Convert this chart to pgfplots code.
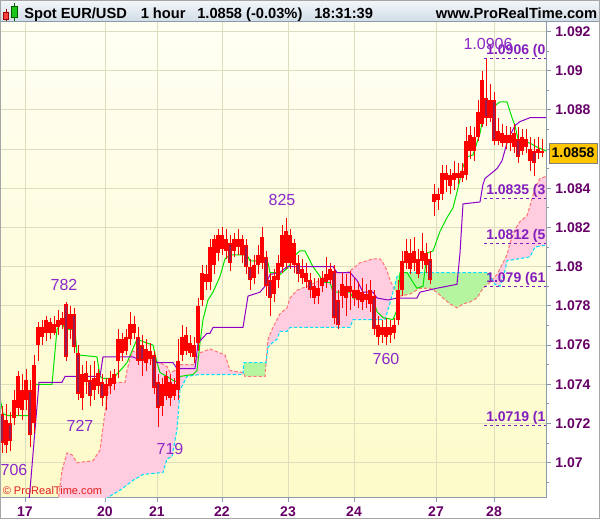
\documentclass[border=0pt]{standalone}
\usepackage{pgfplots}
\pgfplotsset{compat=1.18}
\usepackage{pgfplotstable}
\usepgfplotslibrary{fillbetween}
\usepackage{fontspec}
\setmainfont{Liberation Sans}
\definecolor{candle}{RGB}{255,0,0}
\definecolor{candledk}{RGB}{150,30,80}
\definecolor{tenkan}{RGB}{0,225,0}
\definecolor{kijun}{RGB}{140,0,200}
\definecolor{spanA}{RGB}{0,225,250}
\definecolor{spanB}{RGB}{255,120,120}
\definecolor{cloudpink}{RGB}{255,204,224}
\definecolor{cloudgreen}{RGB}{182,245,160}
\definecolor{gridc}{RGB}{222,222,190}
\definecolor{tickc}{RGB}{102,0,102}
\definecolor{annc}{RGB}{140,40,200}
\definecolor{levc}{RGB}{130,30,190}
\definecolor{framec}{RGB}{140,155,170}
\definecolor{bgtop}{RGB}{255,255,244}
\definecolor{bgbot}{RGB}{253,251,200}
\definecolor{titletop}{RGB}{244,247,250}
\definecolor{titlebot}{RGB}{208,220,230}
\definecolor{gold}{RGB}{255,198,0}

\pgfplotstableread{
x lo bl bh hi
2 1.0705 1.0710 1.0725 1.0729
6 1.0705 1.0709 1.0722 1.0730
10 1.0706 1.0711 1.0720 1.0726
14 1.0719 1.0723 1.0732 1.0737
18 1.0724 1.0728 1.0744 1.0747
22 1.0722 1.0727 1.0737 1.0745
26 1.0727 1.0732 1.0742 1.0748
30 1.0708 1.0714 1.0737 1.0742
34 1.0715 1.0720 1.0750 1.0755
38 1.0752 1.0760 1.0769 1.0772
42 1.0760 1.0764 1.0769 1.0773
46 1.0762 1.0766 1.0773 1.0775
50 1.0763 1.0766 1.0772 1.0774
54 1.0765 1.0766 1.0771 1.0775
58 1.0765 1.0769 1.0773 1.0778
62 1.0768 1.0770 1.0774 1.0777
66 1.0752 1.0754 1.0781 1.0782
70 1.0763 1.0768 1.0776 1.0780
74 1.0756 1.0759 1.0776 1.0779
78 1.0732 1.0735 1.0756 1.0760
82 1.0727 1.0733 1.0745 1.0750
86 1.0735 1.0741 1.0746 1.0752
90 1.0729 1.0734 1.0742 1.0750
94 1.0732 1.0737 1.0743 1.0752
98 1.0735 1.0739 1.0746 1.0748
102 1.0729 1.0733 1.0741 1.0745
106 1.0727 1.0734 1.0740 1.0743
110 1.0735 1.0739 1.0743 1.0747
114 1.0737 1.0740 1.0745 1.0748
118 1.0743 1.0752 1.0763 1.0768
122 1.0752 1.0756 1.0763 1.0766
126 1.0755 1.0757 1.0764 1.0768
130 1.0760 1.0763 1.0771 1.0777
134 1.0763 1.0766 1.0771 1.0775
138 1.0750 1.0752 1.0764 1.0769
142 1.0744 1.0752 1.0760 1.0765
146 1.0747 1.0751 1.0758 1.0763
150 1.0750 1.0753 1.0757 1.0761
154 1.0735 1.0738 1.0755 1.0757
158 1.0718 1.0728 1.0741 1.0745
162 1.0724 1.0729 1.0740 1.0743
166 1.0732 1.0734 1.0744 1.0747
170 1.0729 1.0733 1.0741 1.0745
174 1.0732 1.0734 1.0740 1.0743
178 1.0732 1.0737 1.0752 1.0763
182 1.0752 1.0755 1.0764 1.0770
186 1.0755 1.0757 1.0765 1.0769
190 1.0754 1.0756 1.0761 1.0765
194 1.0751 1.0754 1.0760 1.0764
198 1.0757 1.0761 1.0780 1.0784
202 1.0780 1.0783 1.0797 1.0801
206 1.0788 1.0792 1.0796 1.0801
210 1.0788 1.0792 1.0810 1.0814
214 1.0796 1.0801 1.0814 1.0816
218 1.0803 1.0807 1.0816 1.0819
222 1.0806 1.0809 1.0816 1.0820
226 1.0804 1.0808 1.0814 1.0819
230 1.0798 1.0802 1.0812 1.0816
234 1.0805 1.0808 1.0814 1.0817
238 1.0806 1.0810 1.0814 1.0819
242 1.0802 1.0806 1.0814 1.0816
246 1.0796 1.0800 1.0811 1.0814
250 1.0788 1.0793 1.0800 1.0804
254 1.0791 1.0794 1.0801 1.0806
258 1.0796 1.0801 1.0806 1.0811
262 1.0799 1.0802 1.0815 1.0820
266 1.0785 1.0790 1.0805 1.0808
270 1.0775 1.0784 1.0793 1.0797
274 1.0782 1.0786 1.0795 1.0799
278 1.0789 1.0793 1.0802 1.0806
282 1.0797 1.0800 1.0816 1.0821
286 1.0799 1.0802 1.0818 1.0825
290 1.0799 1.0802 1.0816 1.0819
294 1.0797 1.0801 1.0812 1.0814
298 1.0792 1.0796 1.0802 1.0806
302 1.0791 1.0794 1.0799 1.0804
306 1.0789 1.0792 1.0797 1.0802
310 1.0784 1.0788 1.0793 1.0797
314 1.0781 1.0784 1.0790 1.0794
318 1.0781 1.0785 1.0789 1.0794
322 1.0787 1.0790 1.0794 1.0798
326 1.0789 1.0792 1.0796 1.0805
330 1.0791 1.0793 1.0799 1.0802
334 1.0771 1.0774 1.0798 1.0801
338 1.0768 1.0770 1.0783 1.0788
342 1.0779 1.0785 1.0791 1.0797
346 1.0775 1.0784 1.0790 1.0796
350 1.0778 1.0787 1.0790 1.0798
354 1.0780 1.0784 1.0788 1.0794
358 1.0779 1.0783 1.0788 1.0792
362 1.0778 1.0782 1.0787 1.0794
366 1.0779 1.0783 1.0786 1.0791
370 1.0777 1.0781 1.0788 1.0793
374 1.0765 1.0768 1.0785 1.0788
378 1.0760 1.0764 1.0770 1.0775
382 1.0761 1.0765 1.0769 1.0773
386 1.0760 1.0764 1.0769 1.0774
390 1.0761 1.0765 1.0769 1.0773
394 1.0763 1.0766 1.0770 1.0774
398 1.0770 1.0773 1.0788 1.0793
402 1.0785 1.0788 1.0803 1.0808
406 1.0799 1.0802 1.0808 1.0814
410 1.0796 1.0799 1.0807 1.0814
414 1.0798 1.0802 1.0808 1.0815
418 1.0794 1.0796 1.0804 1.0809
422 1.0799 1.0803 1.0808 1.0817
426 1.0797 1.0801 1.0807 1.0812
430 1.0791 1.0793 1.0804 1.0808
434 1.0826 1.0833 1.0837 1.0842
438 1.0829 1.0834 1.0837 1.0840
442 1.0834 1.0837 1.0848 1.0852
446 1.0838 1.0844 1.0848 1.0852
450 1.0837 1.0841 1.0847 1.0850
454 1.0839 1.0844 1.0848 1.0854
458 1.0842 1.0845 1.0848 1.0853
462 1.0843 1.0845 1.0849 1.0853
466 1.0844 1.0847 1.0864 1.0871
470 1.0855 1.0859 1.0867 1.0872
474 1.0854 1.0859 1.0866 1.0871
478 1.0864 1.0866 1.0879 1.0885
482 1.0871 1.0873 1.0895 1.0900
486 1.0872 1.0876 1.0886 1.0906
490 1.0874 1.0876 1.0885 1.0893
494 1.0862 1.0864 1.0885 1.0889
498 1.0862 1.0864 1.0869 1.0876
502 1.0861 1.0863 1.0868 1.0873
506 1.0860 1.0863 1.0867 1.0872
510 1.0859 1.0863 1.0867 1.0871
514 1.0858 1.0861 1.0868 1.0873
518 1.0853 1.0856 1.0865 1.0871
522 1.0857 1.0859 1.0866 1.0870
526 1.0858 1.0861 1.0865 1.0870
530 1.0849 1.0854 1.0860 1.0866
534 1.0846 1.0853 1.0859 1.0865
538 1.0855 1.0858 1.0860 1.0866
542 1.0856 1.0858 1.0859 1.0865
}\bars

\pgfplotstableread{
x bl bh
2 1.0711 1.0724
10 1.0712 1.0719
30 1.0715 1.0736
66 1.0755 1.0780
74 1.0760 1.0775
78 1.0736 1.0755
90 1.0735 1.0741
102 1.0734 1.0740
138 1.0753 1.0763
142 1.0753 1.0759
154 1.0739 1.0754
158 1.0729 1.0740
230 1.0803 1.0811
246 1.0801 1.0810
250 1.0794 1.0799
266 1.0791 1.0804
270 1.0785 1.0792
298 1.0797 1.0801
310 1.0789 1.0792
334 1.0775 1.0797
338 1.0771 1.0782
374 1.0769 1.0784
430 1.0794 1.0803
486 1.0877 1.0885
494 1.0865 1.0884
518 1.0857 1.0864
534 1.0854 1.0858
}\downbars

\pgfplotstableread{
x y
0 1.0733
3 1.0725
8 1.0724
30 1.0724
33 1.0740
52 1.0740
57 1.0768
62 1.0772
65 1.0768
75 1.0768
77 1.0755
97 1.0754
100 1.0744
103 1.0743
113 1.0743
122 1.0748
127 1.0751
132 1.0757
137 1.0763
147 1.0761
153 1.0760
157 1.0751
160 1.0746
167 1.0744
173 1.0742
178 1.0741
180 1.0744
193 1.0745
197 1.0747
200 1.0761
203 1.0773
208 1.0783
213 1.0787
220 1.0795
225 1.0804
230 1.0806
247 1.0806
250 1.0803
263 1.0803
268 1.0802
270 1.0797
275 1.0797
280 1.0796
287 1.0799
290 1.0801
293 1.0805
300 1.0808
305 1.0808
308 1.0805
313 1.0800
320 1.0795
323 1.0792
330 1.0792
333 1.0787
350 1.0787
353 1.0784
373 1.0784
377 1.0777
383 1.0774
393 1.0773
397 1.0778
400 1.0797
407 1.0797
413 1.0792
417 1.0789
423 1.0790
427 1.0807
433 1.0808
440 1.0818
447 1.0825
453 1.0830
457 1.0838
463 1.0851
467 1.0856
473 1.0857
480 1.0868
483 1.0876
490 1.0879
497 1.0883
500 1.0884
507 1.0884
512 1.0876
515 1.0872
518 1.0865
530 1.0863
537 1.0861
546 1.0859
}\tenkan

\pgfplotstableread{
x y
29 1.0680
39 1.0741
62 1.0741
65 1.0744
100 1.0744
103 1.0754
133 1.0754
137 1.0753
150 1.0754
157 1.0751
173 1.0751
177 1.0748
195 1.0748
198 1.0761
207 1.0766
210 1.0766
213 1.0769
243 1.0769
248 1.0785
260 1.0787
265 1.0790
270 1.0796
280 1.0797
287 1.0800
333 1.0800
337 1.0797
350 1.0797
357 1.0793
363 1.0787
373 1.0787
377 1.0784
388 1.0783
397 1.0784
417 1.0784
420 1.0787
437 1.0789
457 1.0791
460 1.0807
463 1.0832
480 1.0833
483 1.0842
485 1.0845
497 1.0850
502 1.0854
508 1.0865
515 1.0872
520 1.0874
530 1.0876
546 1.0876
}\kijun

\pgfplotstableread{
x y
58 1.0680
62 1.0696
67 1.0705
72 1.0704
77 1.0700
93 1.0701
100 1.07065
104 1.0722
107 1.0733
110 1.0741
125 1.0741
127 1.0747
130 1.0753
133 1.0757
137 1.0756
143 1.0754
153 1.0752
160 1.0751
167 1.0749
170 1.0746
175 1.0747
180 1.0750
193 1.0750
200 1.0756
210 1.0758
220 1.0756
225 1.0755
230 1.0747
243 1.0746
245 1.0744
265 1.0744
268 1.0763
273 1.0769
280 1.0776
287 1.0779
290 1.0784
297 1.0788
307 1.0790
320 1.0793
327 1.0796
337 1.0797
347 1.0797
353 1.0799
360 1.0802
367 1.0803
373 1.0804
380 1.0804
383 1.0802
387 1.0798
390 1.0793
395 1.0788
400 1.0785
410 1.0786
420 1.0789
430 1.0789
437 1.0787
443 1.0784
450 1.0781
457 1.0779
463 1.0781
470 1.0782
477 1.0784
483 1.0789
490 1.0792
497 1.0796
503 1.0802
507 1.0806
510 1.0812
515 1.0819
520 1.0823
527 1.0826
530 1.0831
535 1.0840
540 1.0845
546 1.0846
}\spanb

\pgfplotstableread{
x y
58 1.0670
100 1.0678
107 1.0682
120 1.0686
133 1.0691
143 1.0694
163 1.0695
167 1.0702
172 1.0703
177 1.0717
180 1.0737
187 1.0744
200 1.0745
243 1.0745
244 1.0751
266 1.0751
268 1.0759
272 1.0761
277 1.0763
280 1.0767
287 1.0767
290 1.0769
350 1.0769
353 1.0773
385 1.0773
388 1.0778
393 1.0787
397 1.0795
403 1.0797
488 1.0797
495 1.0791
500 1.0790
505 1.0798
507 1.0803
530 1.0805
535 1.0810
546 1.0811
}\spana

\begin{document}
\begin{tikzpicture}
\begin{axis}[
  at={(0pt,16.5pt)}, anchor=south west,
  scale only axis, width=409.5pt, height=356.25pt,
  xmin=0, xmax=546, ymin=1.06825, ymax=1.09248,
  axis background/.style={top color=bgtop, bottom color=bgbot},
  axis line style={draw=framec, line width=0.75pt},
  xtick={25,105,157,222,288,354,436,494},
  xticklabels={17,20,21,22,23,24,27,28},
  ytick={1.07,1.072,1.074,1.076,1.078,1.08,1.082,1.084,1.086,1.088,1.09,1.092},
  yticklabels={1.07,1.072,1.074,1.076,1.078,1.08,1.082,1.084,{},1.088,1.09,1.092},
  minor ytick={1.069,1.071,1.073,1.075,1.077,1.079,1.081,1.083,1.085,1.087,1.089,1.091},
  tick align=outside, xtick pos=left, ytick pos=right, yticklabel pos=right,
  major tick length=3.5pt, minor tick length=2pt,
  every tick/.style={draw=framec, line width=0.75pt},
  grid=major, major grid style={draw=gridc, line width=0.75pt},
  ticklabel style={font=\fontsize{10.5}{12}\selectfont\bfseries, text=tickc},
]
% cloud
\addplot[name path=B, draw=none, forget plot] table {\spanb};
\addplot[name path=A, draw=none, forget plot] table {\spana};
\addplot[fill=cloudpink, draw=none, forget plot] fill between[of=B and A, soft clip={domain=58:244}];
\addplot[fill=cloudgreen, draw=none, forget plot] fill between[of=B and A, soft clip={domain=244:266}];
\addplot[fill=cloudpink, draw=none, forget plot] fill between[of=B and A, soft clip={domain=266:394}];
\addplot[fill=cloudgreen, draw=none, forget plot] fill between[of=B and A, soft clip={domain=394:491}];
\addplot[fill=cloudpink, draw=none, forget plot] fill between[of=B and A, soft clip={domain=491:546}];
\addplot[spanB, line width=0.8pt, dash pattern=on 2.5pt off 1.5pt] table {\spanb};
\addplot[spanA, line width=0.8pt, dash pattern=on 2.5pt off 1.5pt] table {\spana};
% lines
\addplot[tenkan, line width=0.75pt] table {\tenkan};
\addplot[kijun, line width=0.75pt] table {\kijun};
% candles
\addplot[draw=none, forget plot, error bars/.cd, y dir=plus, y explicit, error mark=none,
  error bar style={draw=candle, line width=0.75pt}]
  table[x=x, y=lo, y error plus expr={\thisrow{hi}-\thisrow{lo}}] {\bars};
\addplot[draw=none, forget plot, error bars/.cd, y dir=plus, y explicit, error mark=none,
  error bar style={draw=candle, line width=2.4pt}]
  table[x=x, y=bl, y error plus expr={\thisrow{bh}-\thisrow{bl}}] {\bars};
\addplot[draw=none, forget plot, error bars/.cd, y dir=plus, y explicit, error mark=none,
  error bar style={draw=candledk, line width=0.9pt}]
  table[x=x, y=bl, y error plus expr={\thisrow{bh}-\thisrow{bl}}] {\downbars};
% level lines
\addplot[levc, line width=0.75pt, dash pattern=on 2.5pt off 2pt] coordinates {(484,1.0906) (546,1.0906)};
\addplot[levc, line width=0.75pt, dash pattern=on 2.5pt off 2pt] coordinates {(484,1.0835) (546,1.0835)};
\addplot[levc, line width=0.75pt, dash pattern=on 2.5pt off 2pt] coordinates {(484,1.0812) (546,1.0812)};
\addplot[levc, line width=0.75pt, dash pattern=on 2.5pt off 2pt] coordinates {(484,1.0790) (546,1.0790)};
\addplot[levc, line width=0.75pt, dash pattern=on 2.5pt off 2pt] coordinates {(484,1.0719) (546,1.0719)};
% level labels
\begin{scope}[every node/.style={font=\fontsize{10.5}{12}\selectfont\bfseries, text=levc, anchor=base west, inner sep=0pt, yshift=3pt}]
\node at (axis cs:486,1.0906) {1.0906 (0};
\node at (axis cs:486,1.0835) {1.0835 (3};
\node at (axis cs:486,1.0812) {1.0812 (5};
\node at (axis cs:486,1.0790) {1.079 (61};
\node at (axis cs:486,1.0719) {1.0719 (1};
\end{scope}
% annotations
\begin{scope}[every node/.style={font=\fontsize{12}{14}\selectfont, text=annc, inner sep=0pt}]
\node at (axis cs:488,1.09136) {1.0906};
\node at (axis cs:282,1.0834) {825};
\node at (axis cs:64,1.07907) {782};
\node at (axis cs:80,1.07187) {727};
\node at (axis cs:170,1.0707) {719};
\node at (axis cs:14,1.06961) {706};
\node at (axis cs:386,1.07529) {760};
\end{scope}
\end{axis}

\begin{scope}[x=0.75pt, y=-0.75pt, shift={(0pt,389.25pt)}]
  % title bar
  \shade[top color=titletop, bottom color=titlebot] (0,0) rectangle (600,22);
  \draw[framec, line width=0.75pt] (0,22) -- (600,22);
  \draw[red!60!black, line width=0.6pt] (6,9) -- (6,21);
  \filldraw[fill=red!75, draw=red!60!black, line width=0.5pt] (3.5,12) rectangle (8.5,19.5);
  \draw[green!40!black, line width=0.6pt] (14,3) -- (14,21);
  \filldraw[fill=green!75!black!90, draw=green!35!black, line width=0.5pt] (11,6) rectangle (17,17.5);
  \begin{scope}[every node/.style={font=\fontsize{11}{13}\selectfont\bfseries, inner sep=0pt, anchor=base west}]
    \node at (24,18.5) {Spot EUR/USD};
    \node at (140.5,18.5) {1 hour};
    \node at (197,18.5) {1.0858 (-0.03\%)};
    \node at (314,18.5) {18:31:39};
    \node[anchor=base east] at (597.5,18.5) {www.ProRealTime.com};
  \end{scope}
  % copyright
  \node[font=\fontsize{8.3}{10}\selectfont, text={rgb,255:red,225;green,30;blue,30}, inner sep=0pt, anchor=base west] at (2.5,494.5) {© ProRealTime.com};
  % price box
  \filldraw[fill=gold, draw=gray, line width=0.75pt] (549,143) rectangle (597,163);
  \node[font=\fontsize{10.5}{12}\selectfont\bfseries, inner sep=0pt] at (573,153) {1.0858};
  % outer border
  \draw[gray!70, line width=0.75pt] (0.5,0.5) rectangle (599.5,518.5);
\end{scope}
\pgfresetboundingbox
\useasboundingbox (0pt,0pt) rectangle (450pt,389.25pt);
\end{tikzpicture}
\end{document}
